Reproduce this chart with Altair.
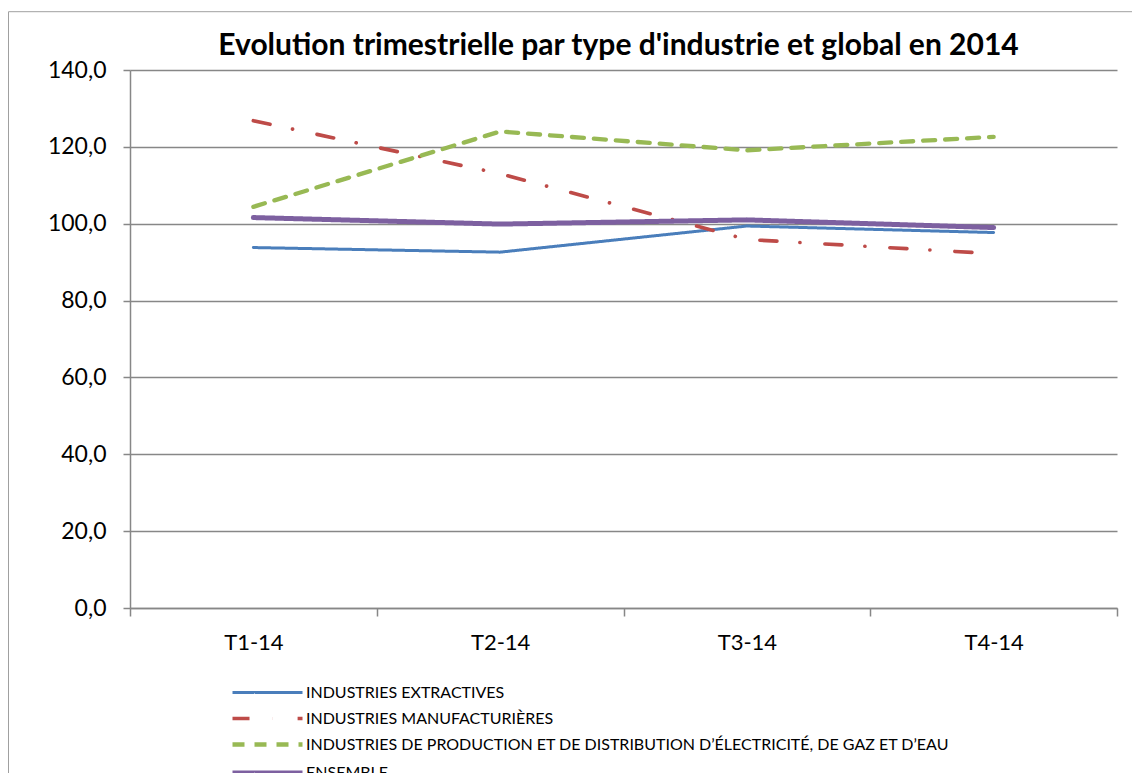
import altair as alt
import pandas as pd

quarters = ["T1-14", "T2-14", "T3-14", "T4-14"]
series_names = [
    "INDUSTRIES EXTRACTIVES",
    "INDUSTRIES MANUFACTURIÈRES",
    "INDUSTRIES DE PRODUCTION ET DE DISTRIBUTION D’ÉLECTRICITÉ, DE GAZ ET D’EAU",
    "ENSEMBLE",
]
extractives = [93.8, 92.6, 99.4, 97.7]
manufacturieres = [126.8, 113.0, 95.9, 92.2]
electricite = [104.4, 124.0, 119.1, 122.6]
ensemble = [101.6, 99.9, 101.0, 99.0]
y_ticks = [0, 20, 40, 60, 80, 100, 120, 140]
title_text = "Evolution trimestrielle par type d'industrie et global en 2014"

colors = ["#4A7EBB", "#BE4B48", "#98B954", "#7D60A0"]
dashes = [[1, 0], [17, 23, 0.1, 25], [12, 10], [1, 0]]
widths = [3, 5, 5, 7]

rows = []
for name, vals in zip(series_names, [extractives, manufacturieres, electricite, ensemble]):
    for q, v in zip(quarters, vals):
        rows.append({"series": name, "quarter": q, "value": v})
df = pd.DataFrame(rows)

GRID = "#878787"
FONT = "Lato"

lines = alt.Chart(df).mark_line(strokeCap="round", strokeJoin="round").encode(
    x=alt.X(
        "quarter:N",
        sort=quarters,
        bandPosition=0.5,
        scale=alt.Scale(type="band", paddingInner=0, paddingOuter=0),
        axis=alt.Axis(
            title=None, labelAngle=0, tickBand="extent", tickSize=8,
            tickColor=GRID, tickWidth=1.5, domainColor=GRID, domainWidth=1.5,
            labelFont=FONT, labelFontSize=22, labelColor="black", labelPadding=16,
            grid=False,
        ),
    ),
    y=alt.Y(
        "value:Q",
        scale=alt.Scale(domain=[0, 140], nice=False),
        axis=alt.Axis(
            title=None, values=y_ticks,
            labelExpr="replace(format(datum.value, '.1f'), '.', ',')",
            grid=True, gridColor=GRID, gridWidth=1.5,
            tickSize=7, tickColor=GRID, tickWidth=1.5,
            domainColor=GRID, domainWidth=1.5,
            labelFont=FONT, labelFontSize=23, labelColor="black", labelPadding=17,
        ),
    ),
    color=alt.Color(
        "series:N", sort=series_names,
        scale=alt.Scale(domain=series_names, range=colors),
        legend=alt.Legend(
            title=None, orient="none", legendX=128, legendY=614,
            direction="vertical", symbolType="M-5,0H5", symbolSize=196,
            labelFont=FONT, labelFontSize=16, labelColor="black",
            labelLimit=2000, labelOffset=29, rowPadding=8.5,
        ),
    ),
    strokeDash=alt.StrokeDash(
        "series:N", sort=series_names,
        scale=alt.Scale(domain=series_names, range=dashes), legend=None,
    ),
    strokeWidth=alt.StrokeWidth(
        "series:N", sort=series_names,
        scale=alt.Scale(domain=series_names, range=widths), legend=None,
    ),
    order=alt.Order("quarter:N"),
)

border_df = pd.DataFrame({"k": [0]})
top_rule = alt.Chart(border_df).mark_rule(color="#A0A0A0", strokeWidth=1, clip=False).encode(
    x=alt.value(-121.5), x2=alt.value(1010), y=alt.value(-58.3)
)
left_rule = alt.Chart(border_df).mark_rule(color="#A0A0A0", strokeWidth=1, clip=False).encode(
    x=alt.value(-121.5), y=alt.value(-58.3), y2=alt.value(800)
)
title_mark = alt.Chart(border_df).mark_text(
    font=FONT, fontSize=30, fontWeight="bold", color="black",
    align="center", baseline="alphabetic", clip=False,
).encode(x=alt.value(488.5), y=alt.value(-15), text=alt.value(title_text))

chart = alt.layer(lines, top_rule, left_rule, title_mark).properties(
    width=987,
    height=538,
    autosize=alt.AutoSizeParams(type="none"),
    padding={"left": 122, "top": 62, "right": 15, "bottom": 165},
).configure_view(stroke=None)

chart.save("out.html", embed_options={"renderer": "svg", "actions": False})
